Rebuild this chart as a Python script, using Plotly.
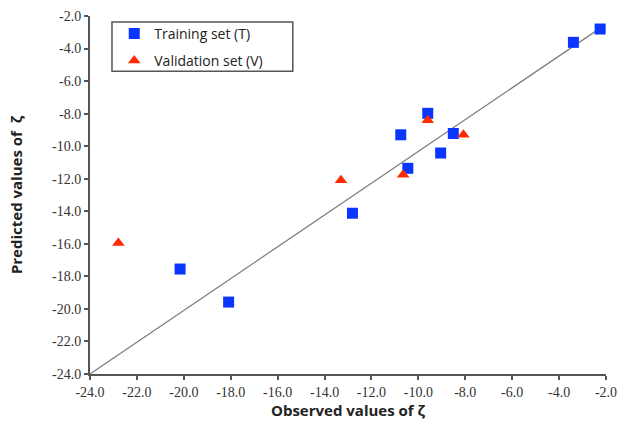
import plotly.graph_objects as go

train_x = [-2.25, -3.39, -9.6, -10.75, -8.51, -9.05, -10.45, -12.81, -20.16, -18.09]
train_y = [-2.8, -3.62, -7.98, -9.3, -9.22, -10.42, -11.36, -14.12, -17.55, -19.58]
val_x = [-22.79, -9.6, -8.08, -10.65, -13.3]
val_y = [-15.95, -8.4, -9.3, -11.75, -12.1]
line_x = [-24.0, -2.2]
line_y = [-24.0, -2.7]
ticks = [-24, -22, -20, -18, -16, -14, -12, -10, -8, -6, -4, -2]
tick_text = ["%.1f" % t for t in ticks]

fig = go.Figure()
fig.add_trace(go.Scatter(x=line_x, y=line_y, mode="lines",
                         line=dict(color="#808080", width=1.3), showlegend=False, hoverinfo="skip"))
fig.add_trace(go.Scatter(x=train_x, y=train_y, mode="markers", name="Training set (T)",
                         legendgroup="t",
                         marker=dict(symbol="square", size=11, color="#0a36ff")))
fig.add_trace(go.Scatter(x=val_x, y=val_y, mode="markers", name="Validation set (V)",
                         legendgroup="v",
                         marker=dict(symbol="triangle-up", size=11, color="#ff2a00")))


def axis(title, standoff):
    return dict(range=[-24, -2], tickmode="array", tickvals=ticks, ticktext=tick_text, showgrid=False,
                zeroline=False, showline=True, linecolor="#555555", linewidth=2,
                ticks="outside", ticklen=4, tickwidth=1.5, tickcolor="#555555",
                automargin=False,
                tickfont=dict(family="Liberation Serif", size=14, color="#333333"),
                title=dict(text=title, standoff=standoff,
                           font=dict(family="Open Sans", size=15, color="#222222")))


fig.update_layout(
    width=620, height=421,
    margin=dict(l=90, r=14, t=16, b=47),
    paper_bgcolor="white", plot_bgcolor="white",
    xaxis=axis("<b>Observed values of ζ</b>", 6),
    yaxis=axis("<b>Predicted values of  ζ</b>", 26),
    legend=dict(x=0.047, y=0.995, xanchor="left", yanchor="top", borderwidth=0,
                bgcolor="rgba(0,0,0,0)", font=dict(family="Open Sans", size=14, color="#222222"),
                itemwidth=30, tracegroupgap=6),
    shapes=[dict(type="rect", xref="paper", yref="paper", x0=0.0426, x1=0.393, y0=0.846, y1=0.983,
                 line=dict(color="#555555", width=1.5), fillcolor="rgba(0,0,0,0)", layer="above")],
)
fig.write_html("out.html")
